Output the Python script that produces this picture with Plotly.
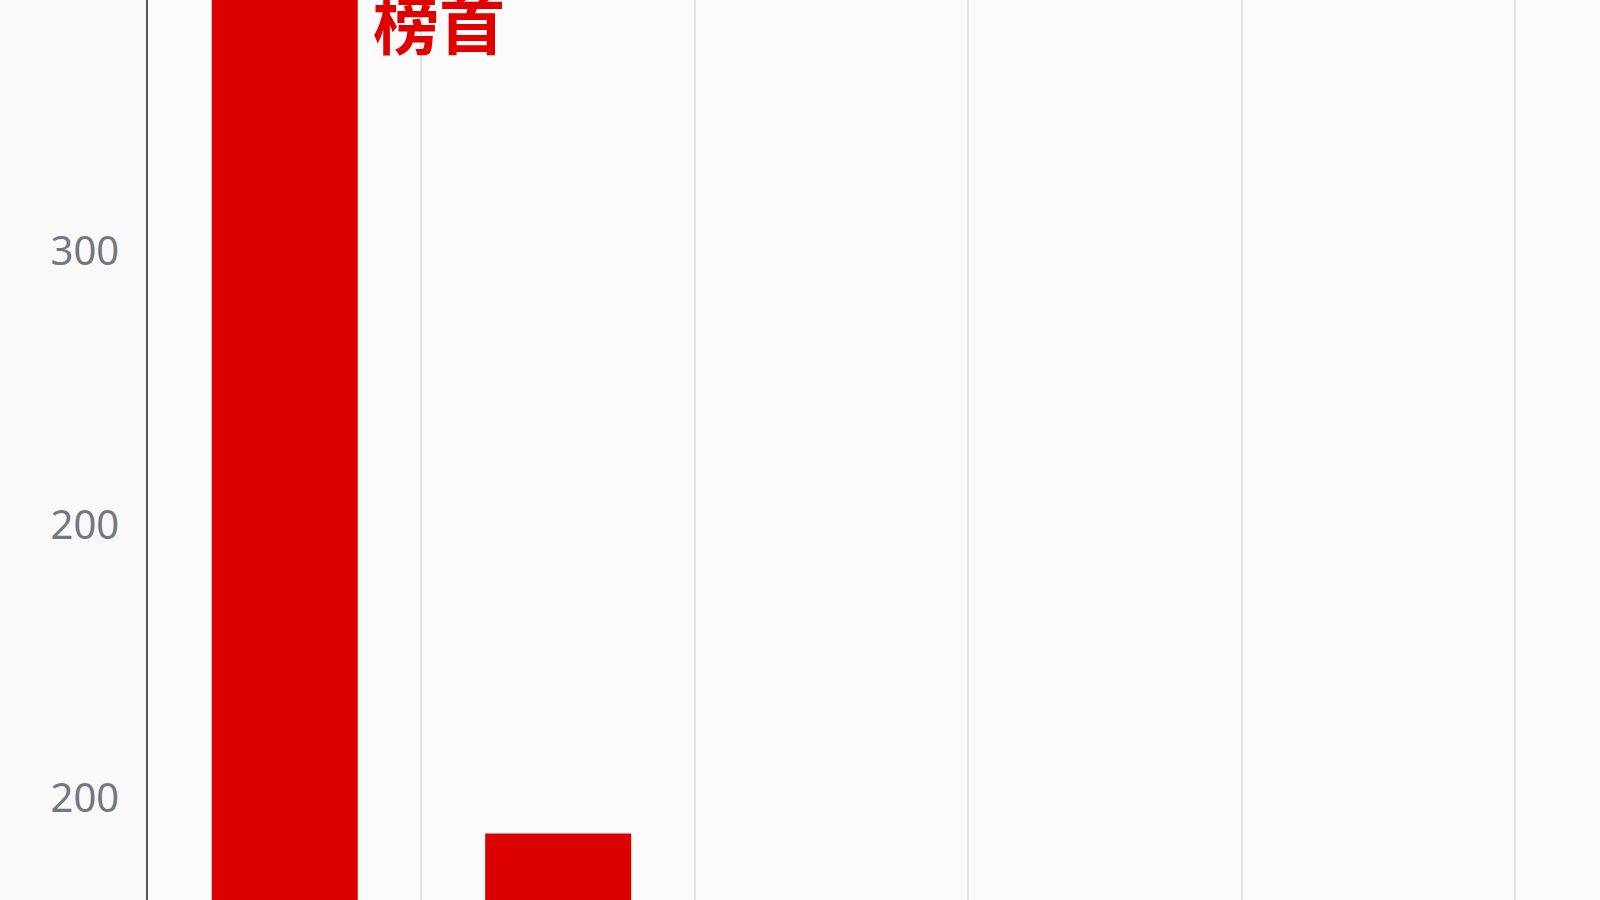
import plotly.graph_objects as go

# ranks along the x axis (their labels sit below the visible crop)
categories = ["1", "2", "3", "4", "5"]
values = [410, 87, None, None, None]

# y tick labels as printed in the picture
tick_values = [100, 200, 300]
tick_labels = ["200", "200", "300"]

top_label = "榜首"
top_label_value = 384.5

bar_red = "#dd0000"

fig = go.Figure()
fig.add_trace(go.Bar(
    x=categories, y=values, width=0.534,
    marker=dict(color=bar_red, line=dict(width=0)),
    hoverinfo="skip",
))

# x=0 is the index of the first category
fig.add_annotation(
    x=0, y=top_label_value, xref="x", yref="y",
    text=f"<b>{top_label}</b>", showarrow=False,
    xanchor="left", yanchor="middle", xshift=86,
    font=dict(family="Noto Sans CJK SC", size=66, color="#e00000"),
)

fig.update_layout(
    width=1600, height=900,
    margin=dict(l=148, r=0, t=0, b=0),
    paper_bgcolor="#f9f9f9",
    plot_bgcolor="#fbfbfb",
    showlegend=False,
    xaxis=dict(
        type="category",
        categoryorder="array", categoryarray=categories,
        range=[-0.5, 4.81],
        tickson="boundaries",
        showgrid=True, gridcolor="#dfe4ea", gridwidth=2,
        showticklabels=False, ticks="",
        showline=False, zeroline=False,
    ),
    yaxis=dict(
        range=[62.7, 391.8],
        tickvals=tick_values, ticktext=tick_labels,
        tickfont=dict(family="Noto Sans", size=40, color="#73777f"),
        ticklabelstandoff=19,
        showgrid=False, zeroline=False,
        showline=True, linecolor="#555a60", linewidth=1.5,
        ticks="",
    ),
)

fig.write_html(
    "out.html",
    config={"displayModeBar": False},
    post_script="document.body.style.margin='0';",
)
